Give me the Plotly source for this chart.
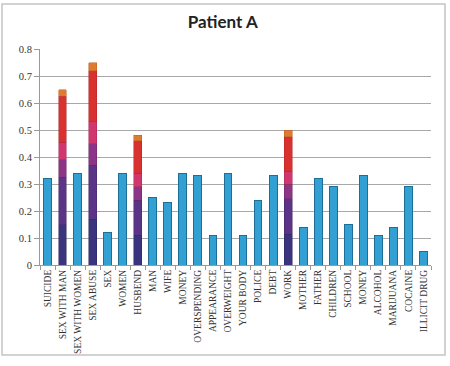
import plotly.graph_objects as go

categories = ["SUICIDE", "SEX WITH MAN", "SEX WITH WOMEN", "SEX ABUSE", "SEX", "WOMEN",
              "HUSBEND", "MAN", "WIFE", "MONEY", "OVERSPENDING", "APPEARANCE", "OVERWEIGHT",
              "YOUR BODY", "POLICE", "DEBT", "WORK", "MOTHER", "FATHER", "CHILDREN",
              "SCHOOL", "MONEY", "ALCOHOL", "MARIJUANA", "COCAINE", "ILLICIT DRUG"]

blue = [0.32, None, 0.34, None, 0.12, 0.34, None, 0.25, 0.23, 0.34, 0.33, 0.11, 0.34,
        0.11, 0.24, 0.33, None, 0.14, 0.32, 0.29, 0.15, 0.33, 0.11, 0.14, 0.29, 0.05]

# stacked segments for the four multi-coloured bars
stack_idx = [1, 3, 6, 16]
seg_navy   = [0.150, 0.170, 0.110, 0.114]
seg_purple = [0.175, 0.200, 0.130, 0.131]
seg_violet = [0.065, 0.080, 0.050, 0.055]
seg_pink   = [0.065, 0.080, 0.050, 0.045]
seg_red    = [0.170, 0.190, 0.120, 0.130]
seg_orange = [0.025, 0.030, 0.020, 0.025]

y_ticks = [0, 0.1, 0.2, 0.3, 0.4, 0.5, 0.6, 0.7, 0.8]
y_tick_text = ["0", "0.1", "0.2", "0.3", "0.4", "0.5", "0.6", "0.7", "0.8"]

x = list(range(len(categories)))

def expand(vals):
    out = [None] * len(categories)
    for i, v in zip(stack_idx, vals):
        out[i] = v
    return out

fig = go.Figure()
fig.add_bar(x=x, y=blue, marker=dict(color="#33a0d4", line=dict(color="#1f6e98", width=1)))
for vals, col, edge in [(seg_navy, "#3a347e", "#2a2560"),
                        (seg_purple, "#5b3487", "#452868"),
                        (seg_violet, "#8c3486", "#6e2868"),
                        (seg_pink, "#d1376f", "#a82a58"),
                        (seg_red, "#d9312f", "#b02625"),
                        (seg_orange, "#e07a30", "#b86020")]:
    fig.add_bar(x=x, y=expand(vals), marker=dict(color=col, line=dict(color=edge, width=0.5)))

serif = "Liberation Serif"

fig.update_layout(
    barmode="stack",
    bargap=0.48,
    showlegend=False,
    width=450, height=366,
    margin=dict(l=40, r=19, t=49, b=96),
    paper_bgcolor="white",
    plot_bgcolor="white",
    title=dict(text="<b>Patient A</b>", x=0.495, xanchor="center", xref="container",
               y=1 - 22 / 366, yref="container", yanchor="middle",
               font=dict(family="Lato, Open Sans, sans-serif", size=17, color="#222")),
    xaxis=dict(
        tickmode="array", tickvals=x, ticktext=categories, tickangle=-90,
        range=[-0.5, len(categories) - 0.5],
        tickfont=dict(family=serif, size=9.5, color="#333"),
        ticks="", showgrid=False, showline=True, linecolor="#999", linewidth=1,
        minor=dict(tick0=-0.5, dtick=1, ticks="outside", ticklen=4, tickcolor="#999", showgrid=False),
        zeroline=False,
    ),
    yaxis=dict(
        range=[0, 0.8], tickmode="array", tickvals=y_ticks, ticktext=y_tick_text,
        tickfont=dict(family=serif, size=10.5, color="#333"),
        ticks="outside", ticklen=5, tickcolor="#999",
        showgrid=True, gridcolor="#a8a8a8", gridwidth=1,
        showline=True, linecolor="#999", linewidth=1, zeroline=False,
    ),
    shapes=[dict(type="rect", xref="paper", yref="paper",
                 x0=(2 - 40) / 391, x1=(445 - 40) / 391,
                 y0=(270 - 362) / 221, y1=(270 - 3) / 221,
                 line=dict(color="#c4c4c4", width=1.5), layer="below")],
)

fig.write_html("out.html")
